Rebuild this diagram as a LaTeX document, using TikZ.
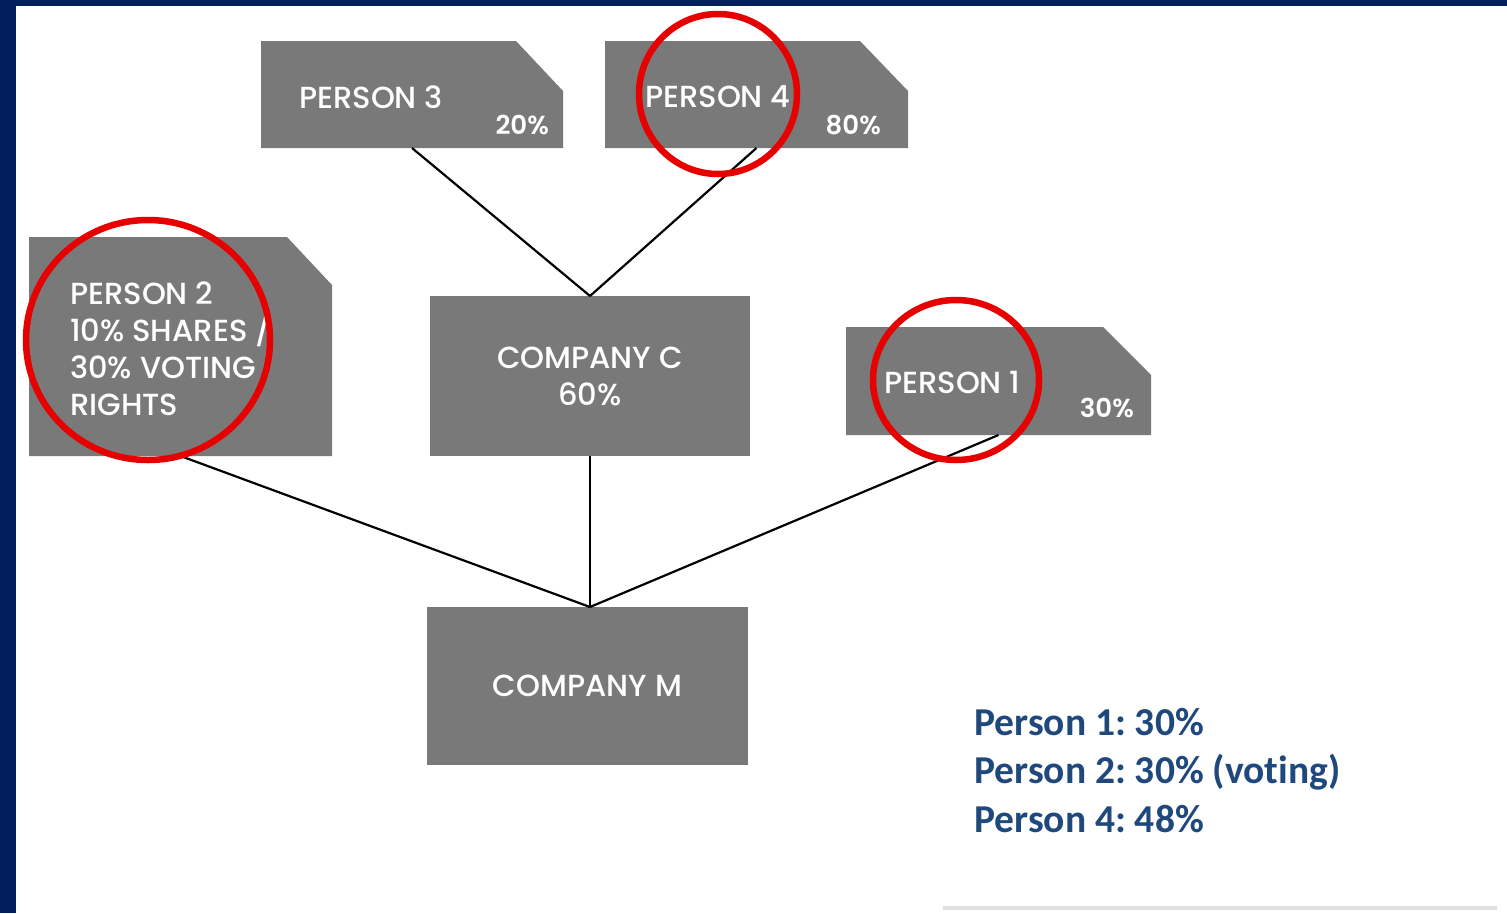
\documentclass[tikz,border=0pt]{standalone}
\usepackage{fontspec}
\setmainfont{Poppins}[UprightFont={* Medium}, BoldFont={* SemiBold}]
\newfontfamily\legendfont{Carlito}[Ligatures={NoCommon}]
\usetikzlibrary{calc}
\definecolor{navy}{RGB}{0,31,91}
\definecolor{boxgray}{RGB}{121,121,121}
\definecolor{ringred}{RGB}{230,0,0}
\definecolor{legendblue}{RGB}{31,73,125}
\tikzset{
  anchorbox/.style={rectangle, inner sep=0pt, outer sep=0pt},
  boxtext/.style={text=white, inner sep=0pt, font=\fontsize{30.5}{37}\selectfont},
  pcttext/.style={text=white, inner sep=0pt, font=\fontsize{26}{30}\selectfont\bfseries},
  link/.style={black, line width=2.2pt},
  ring/.style={ringred, line width=6.5pt},
}
% grey box with its top right corner cut off
\newcommand{\cutbox}[3]{%
  \fill[boxgray] (#1.south west) -- (#1.north west) -- ($(#1.north east)+(-#2,0)$)
    -- ($(#1.north east)+(0,#3)$) -- (#1.south east) -- cycle;}
\begin{document}
\frenchspacing
\begin{tikzpicture}[x=1pt, y=-1pt]
\useasboundingbox (0,0) rectangle (1507,913);
\fill[navy] (0,0) rectangle (1507,913);
\fill[white] (16,6) rectangle (1507,913);

% box frames
\node[anchorbox, minimum width=302, minimum height=107] (p3) at (412,94.5) {};
\node[anchorbox, minimum width=303, minimum height=107] (p4) at (756.5,94.5) {};
\node[anchorbox, minimum width=303, minimum height=219] (p2) at (180.5,346.5) {};
\node[anchorbox, minimum width=305, minimum height=108] (p1) at (998.5,381) {};
\node[anchorbox, minimum width=320, minimum height=160, fill=boxgray] (cc) at (590,376) {};
\node[anchorbox, minimum width=321, minimum height=158, fill=boxgray] (cm) at (587.5,686) {};
\cutbox{p3}{47}{50}
\cutbox{p4}{48}{50}
\cutbox{p2}{45}{48}
\cutbox{p1}{48}{48}

% connectors
\draw[link] (p3.south) -- (cc.north);
\draw[link] (p4.south) -- (cc.north);
\draw[link] (cc.south) -- (cc.south |- cm.north);
\draw[link] (p2.south) -- (cc.south |- cm.north);
\draw[link] (p1.south) -- (cc.south |- cm.north);

% box labels
\node[boxtext, anchor=west] (t3) at (299,97) {PERSON 3};
\node[pcttext, anchor=east] (v3) at (549,125) {20\%};
\node[boxtext, anchor=west] (t4) at (645,97) {PERSON 4};
\node[pcttext, anchor=east] (v4) at (881,125) {80\%};
\node[boxtext, anchor=west] (t1) at (884,382) {PERSON 1};
\node[pcttext, anchor=east] (v1) at (1134,408) {30\%};
\node[boxtext, anchor=north west, align=left] (t2) at (70,282)
  {PERSON 2\\10\% SHARES /\\30\% VOTING\\RIGHTS};
\node[boxtext, align=center] (tc) at (cc) {COMPANY C\\60\%};
\node[boxtext] (tm) at (cm) {COMPANY M};

% red rings
\draw[ring] (718,94) ellipse [x radius=79, y radius=80];
\draw[ring] (148,340) ellipse [x radius=122, y radius=120];
\draw[ring] (956,380) ellipse [x radius=83, y radius=80];

% summary panel
\fill[black!12] (943,605) rectangle (1497,910);
\fill[white] (941,600) rectangle (1497,906);
\node[anchor=north west, inner sep=0pt, align=left, text=legendblue,
  font=\legendfont\bfseries\fontsize{39.5}{48.5}\selectfont] (leg) at (974,708)
  {Person 1: 30\%\\Person 2: 30\% (voting)\\Person 4: 48\%};
\end{tikzpicture}
\end{document}
